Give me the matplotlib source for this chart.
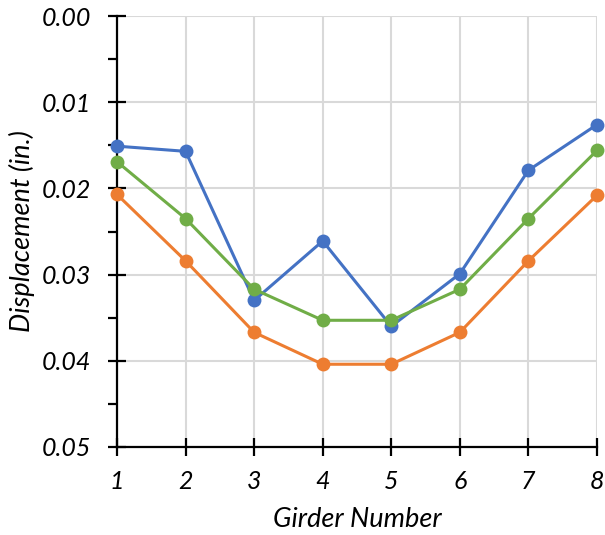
import matplotlib
matplotlib.use("Agg")
import matplotlib.pyplot as plt
from matplotlib.ticker import FixedLocator

girders = [1, 2, 3, 4, 5, 6, 7, 8]
blue = [0.0151, 0.0157, 0.0330, 0.0261, 0.0360, 0.0299, 0.0179, 0.0126]
orange = [0.0207, 0.0284, 0.0367, 0.0404, 0.0404, 0.0367, 0.0284, 0.0208]
green = [0.0169, 0.0235, 0.0317, 0.0353, 0.0353, 0.0317, 0.0235, 0.0156]
yticks = [0.00, 0.01, 0.02, 0.03, 0.04, 0.05]
ytick_labels = ["0.00", "0.01", "0.02", "0.03", "0.04", "0.05"]

plt.rcParams['font.family'] = ['Lato', 'DejaVu Sans']

fig = plt.figure(figsize=(6.05, 5.35), dpi=100)
ax = fig.add_axes([117/605, (535-447)/535, (597-117)/605, (447-16)/535])

for vals, col in [(blue, '#4472C4'), (orange, '#ED7D31'), (green, '#70AD47')]:
    ax.plot(girders, vals, color=col, lw=2.2, marker='o', ms=10, mec='none',
            clip_on=False, zorder=3)

ax.set_xlim(1, 8)
ax.set_ylim(0.05, 0.0)
ax.set_xticks(girders)
ax.set_xticklabels([str(g) for g in girders])
ax.set_yticks(yticks)
ax.set_yticklabels(ytick_labels)
ax.yaxis.set_minor_locator(FixedLocator([0.005, 0.015, 0.025, 0.035, 0.045]))

ax.grid(True, which='major', color='#d9d9d9', lw=1.5, zorder=0)
for s in ['top', 'right']:
    ax.spines[s].set_visible(False)
for s in ['left', 'bottom']:
    ax.spines[s].set_linewidth(1.6)
    ax.spines[s].set_color('black')
    ax.spines[s].set_zorder(2.5)

ax.tick_params(axis='both', which='major', direction='inout', length=13, width=1.6,
               labelsize=18, pad=10)
ax.tick_params(axis='y', which='minor', direction='out', length=6.5, width=1.6)
ax.tick_params(axis='y', which='major', pad=12)
for lab in ax.get_xticklabels() + ax.get_yticklabels():
    lab.set_fontstyle('italic')

ax.set_xlabel('Girder Number', fontsize=19.5, fontstyle='italic', labelpad=10)
ax.set_ylabel('Displacement (in.)', fontsize=19.5, fontstyle='italic', labelpad=5)

fig.savefig('out.png', dpi=100)
